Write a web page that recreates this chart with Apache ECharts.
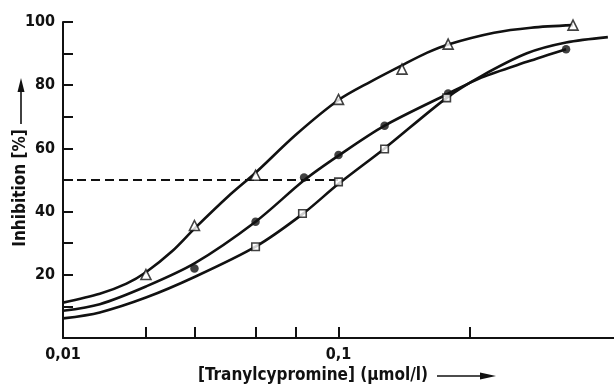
<!DOCTYPE html>
<html>
<head>
<meta charset="utf-8">
<script src="https://cdn.jsdelivr.net/npm/echarts@6/dist/echarts.min.js"></script>
<style>
  html, body { margin: 0; padding: 0; background: #fff; }
  #chart { width: 614px; height: 387px; }
</style>
</head>
<body>
<div id="chart"></div>
<script>
// Measured inhibition points (concentration in µmol/l, inhibition in %)
const triX = [0.02, 0.03, 0.05, 0.1, 0.17, 0.25, 0.71];
const triY = [20.1, 35.6, 51.5, 75.5, 85.1, 93.0, 99.0];
const dotX = [0.03, 0.05, 0.075, 0.1, 0.147, 0.25, 0.67];
const dotY = [22.0, 36.8, 50.8, 57.9, 67.2, 77.4, 91.4];
const sqX = [0.05, 0.074, 0.1, 0.147, 0.247];
const sqY = [28.9, 39.4, 49.4, 59.8, 76.0];

// Fitted curves
const triCurveX = [0.01, 0.0136, 0.017, 0.02, 0.025, 0.03, 0.04, 0.05, 0.07, 0.1, 0.13, 0.17, 0.21, 0.25, 0.367, 0.5, 0.71];
const triCurveY = [11.2, 14.0, 17.2, 20.8, 27.6, 34.6, 45.0, 52.3, 64.3, 75.3, 81.0, 86.3, 90.3, 92.9, 96.6, 98.2, 99.0];
const dotCurveX = [0.01, 0.0136, 0.02, 0.03, 0.05, 0.075, 0.1, 0.147, 0.25, 0.33, 0.483, 0.67];
const dotCurveY = [8.6, 10.7, 16.3, 23.6, 36.8, 49.9, 57.7, 67.2, 77.3, 82.4, 87.4, 91.4];
const sqCurveX = [0.01, 0.0136, 0.02, 0.03, 0.05, 0.074, 0.1, 0.147, 0.247, 0.33, 0.483, 0.67, 0.95];
const sqCurveY = [6.2, 8.1, 12.8, 19.3, 28.9, 39.2, 48.8, 60.0, 76.0, 82.9, 90.1, 93.5, 95.2];

// 50 % reference line
const refX = [0.01, 0.1];
const refY = [50, 50];

// Axis ticks and labels
const xTickValues = [0.02, 0.03, 0.05, 0.07, 0.1, 0.3];
const xLabelValues = [0.01, 0.1];
const yLabelValues = [20, 40, 60, 80, 100];

const pairs = (xs, ys) => xs.map((x, i) => [x, ys[i]]);

const FONT = '"Liberation Sans Narrow", "DejaVu Sans Condensed", sans-serif';
const INK = '#111';

const chart = echarts.init(document.getElementById('chart'), null, { renderer: 'canvas' });

const curve = (name, xs, ys) => ({
  name, type: 'line', data: pairs(xs, ys), smooth: 0.3,
  showSymbol: false, silent: true, z: 2,
  lineStyle: { color: INK, width: 2.6 }
});

const points = (name, xs, ys, symbol, size, filled) => ({
  name, type: 'scatter', data: pairs(xs, ys), symbol, symbolSize: size, z: 5,
  itemStyle: {
    color: filled ? INK : '#fff',
    borderColor: INK,
    borderWidth: filled ? 0 : 1.6
  }
});

chart.setOption({
  animation: false,
  backgroundColor: '#fff',
  grid: { left: 63, top: 22, bottom: 49, width: 559 },
  xAxis: {
    type: 'log', logBase: 10, min: 0.01, max: 1,
    axisLine: { lineStyle: { color: INK, width: 2 } },
    axisTick: { inside: true, length: 11, customValues: xTickValues, lineStyle: { color: INK, width: 2 } },
    minorTick: { show: false },
    splitLine: { show: false },
    axisLabel: {
      customValues: xLabelValues,
      formatter: v => String(v).replace('.', ','),
      color: INK, fontFamily: FONT, fontWeight: 'bold', fontSize: 16, margin: 9
    }
  },
  yAxis: {
    type: 'value', min: 0, max: 100, interval: 10,
    axisLine: { show: true, lineStyle: { color: INK, width: 2 } },
    axisTick: { inside: true, length: 10, lineStyle: { color: INK, width: 2 } },
    splitLine: { show: false },
    axisLabel: {
      formatter: v => (yLabelValues.indexOf(v) >= 0 ? String(v) : ''),
      color: INK, fontFamily: FONT, fontWeight: 'bold', fontSize: 16, margin: 8
    }
  },
  graphic: [
    { type: 'text', x: 21, y: 188, rotation: Math.PI / 2,
      style: { text: 'Inhibition [%]', fill: INK, font: 'bold 17px ' + FONT, align: 'center', verticalAlign: 'middle' } },
    { type: 'line', shape: { x1: 21, y1: 124, x2: 21, y2: 88 }, style: { stroke: INK, lineWidth: 1.6 } },
    { type: 'polygon', shape: { points: [[21, 78], [17.5, 92], [24.5, 92]] }, style: { fill: INK } },
    { type: 'text', x: 313, y: 376,
      style: { text: '[Tranylcypromine] (µmol/l)', fill: INK, font: 'bold 17px ' + FONT, align: 'center', verticalAlign: 'middle' } },
    { type: 'line', shape: { x1: 437, y1: 376, x2: 482, y2: 376 }, style: { stroke: INK, lineWidth: 1.6 } },
    { type: 'polygon', shape: { points: [[496, 376], [480, 372.5], [480, 379.5]] }, style: { fill: INK } }
  ],
  series: [
    {
      name: 'IC50', type: 'line', data: pairs(refX, refY), showSymbol: false, silent: true, z: 1,
      lineStyle: { color: INK, width: 1.8, type: [9, 5] }
    },
    curve('curve-tri', triCurveX, triCurveY),
    curve('curve-dot', dotCurveX, dotCurveY),
    curve('curve-sq', sqCurveX, sqCurveY),
    points('tri', triX, triY, 'triangle', 10, false),
    points('dot', dotX, dotY, 'circle', 8.5, true),
    points('sq', sqX, sqY, 'rect', 7.5, false)
  ]
});
</script>
</body>
</html>
